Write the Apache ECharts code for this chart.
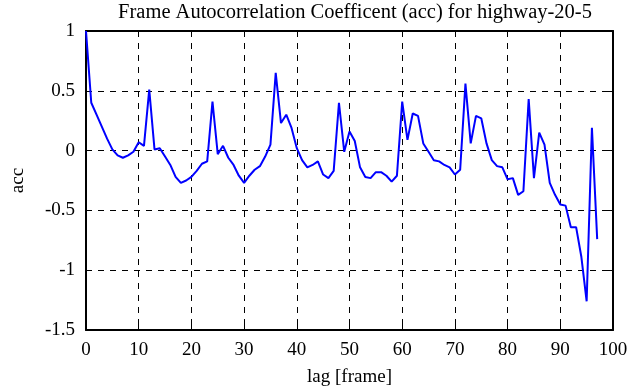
<!DOCTYPE html>
<html><head><meta charset="utf-8">
<script src="https://cdn.jsdelivr.net/npm/echarts@6/dist/echarts.min.js"></script>
<style>html,body{margin:0;padding:0;background:#fff}#c{width:635px;height:387px}</style>
</head><body><div id="c"></div>
<script>
const titleText = 'Frame Autocorrelation Coefficent (acc) for highway-20-5';
const xLabel = 'lag [frame]';
const yLabel = 'acc';
const lags = Array.from({length: 98}, (_, i) => i);
const acc = [
 1.00, 0.40, 0.30, 0.20, 0.10, 0.01, -0.04, -0.06, -0.04, -0.01,
 0.07, 0.04, 0.51, 0.01, 0.02, -0.05, -0.12, -0.22, -0.27, -0.25,
 -0.22, -0.17, -0.11, -0.09, 0.41, -0.03, 0.04, -0.06, -0.12, -0.21,
 -0.27, -0.21, -0.16, -0.13, -0.05, 0.05, 0.65, 0.23, 0.30, 0.19,
 0.02, -0.08, -0.14, -0.12, -0.09, -0.20, -0.23, -0.17, 0.40, -0.01,
 0.16, 0.08, -0.14, -0.22, -0.23, -0.18, -0.18, -0.21, -0.26, -0.21,
 0.41, 0.09, 0.31, 0.29, 0.06, -0.01, -0.08, -0.09, -0.12, -0.14,
 -0.20, -0.16, 0.56, 0.06, 0.29, 0.27, 0.06, -0.08, -0.13, -0.14,
 -0.24, -0.23, -0.37, -0.34, 0.43, -0.23, 0.15, 0.05, -0.27, -0.37,
 -0.45, -0.46, -0.64, -0.64, -0.89, -1.26, 0.19, -0.74
];
const xTicks = [0,10,20,30,40,50,60,70,80,90,100];
const yTicks = [-1.5,-1,-0.5,0,0.5,1];

const font = 'Liberation Serif, DejaVu Serif, serif';
const chart = echarts.init(document.getElementById('c'), null, {renderer: 'canvas'});
const tickStyle = {show: true, inside: true, length: 5, lineStyle: {color: '#000', width: 1}};
const frameLine = {show: true, onZero: false, lineStyle: {color: '#000', width: 2}};
const grid = {show: true, lineStyle: {color: '#000', type: [6, 6], width: 1}};
chart.setOption({
  animation: false,
  title: {text: titleText, left: 350, top: -3, textAlign: 'center',
    textStyle: {fontFamily: font, fontSize: 20.5, fontWeight: 'normal', color: '#000'}},
  grid: {left: 86, right: 22, top: 31, bottom: 57, containLabel: false, outerBoundsMode: 'none'},
  xAxis: [{
    type: 'value', min: 0, max: 100, interval: 10, position: 'bottom',
    name: xLabel, nameLocation: 'middle', nameGap: 38,
    nameTextStyle: {fontFamily: font, fontSize: 19, color: '#000'},
    axisLine: frameLine, axisTick: tickStyle,
    axisLabel: {fontFamily: font, fontSize: 19, color: '#000', margin: 11,
      customValues: xTicks, formatter: v => String(v)},
    splitLine: grid
  },{
    type: 'value', min: 0, max: 100, interval: 10, position: 'top',
    axisLine: frameLine, axisTick: tickStyle,
    axisLabel: {show: false}, splitLine: {show: false}
  }],
  yAxis: [{
    type: 'value', min: -1.5, max: 1, interval: 0.5, position: 'left',
    name: yLabel, nameLocation: 'middle', nameGap: 58, nameRotate: 90,
    nameTextStyle: {fontFamily: font, fontSize: 19, color: '#000'},
    axisLine: frameLine, axisTick: tickStyle,
    axisLabel: {fontFamily: font, fontSize: 19, color: '#000', margin: 11,
      padding: [5, 0, 0, 0], formatter: v => String(v)},
    splitLine: grid
  },{
    type: 'value', min: -1.5, max: 1, interval: 0.5, position: 'right',
    axisLine: frameLine, axisTick: tickStyle,
    axisLabel: {show: false}, splitLine: {show: false}
  }],
  series: [{
    type: 'line', xAxisIndex: 0, yAxisIndex: 0,
    data: lags.map((l, i) => [l, acc[i]]),
    showSymbol: false, symbol: 'none',
    lineStyle: {color: '#0000ff', width: 2},
    z: 3
  }]
});
</script></body></html>
